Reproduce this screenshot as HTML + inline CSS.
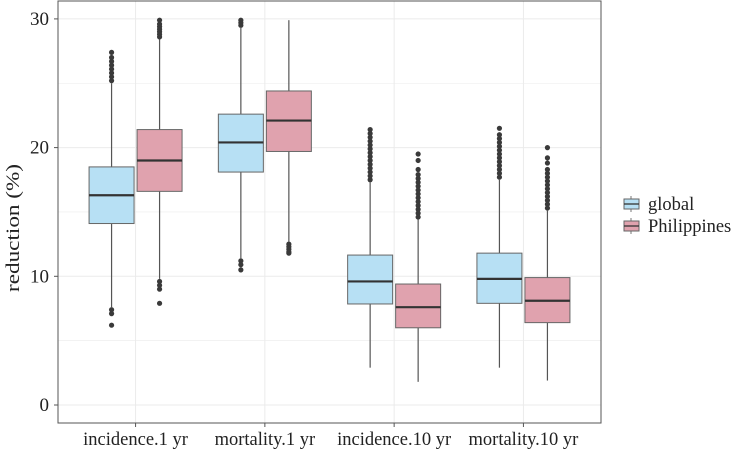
<!DOCTYPE html>
<html><head><meta charset="utf-8"><style>
body{margin:0;background:#fff;}
svg text{font-family:"Liberation Serif",serif;fill:#222;}
</style></head><body>
<svg id="chart" width="732" height="451" xmlns="http://www.w3.org/2000/svg">
<g id="grid"></g>
<g id="marks"></g>
<g id="axes"></g>
<text transform="translate(19,228) rotate(-90)" text-anchor="middle" font-size="19" textLength="128" lengthAdjust="spacingAndGlyphs">reduction (%)</text>
<g>
<g>
<line x1="631" y1="196" x2="631" y2="212" stroke="#777" stroke-width="1"/>
<rect x="624" y="199" width="15" height="10" fill="#b7e0f4" stroke="#666" stroke-width="1"/>
<line x1="624" y1="204" x2="639" y2="204" stroke="#333" stroke-width="1.3"/>
<text x="648" y="210" font-size="18.5">global</text></g>
<g>
<line x1="631" y1="218" x2="631" y2="234" stroke="#777" stroke-width="1"/>
<rect x="624" y="221" width="15" height="10" fill="#e0a2ae" stroke="#666" stroke-width="1"/>
<line x1="624" y1="226" x2="639" y2="226" stroke="#333" stroke-width="1.3"/>
<text x="648" y="232" font-size="18.5">Philippines</text></g>
</g>
</svg>
<script>
const categories=["incidence.1 yr","mortality.1 yr","incidence.10 yr","mortality.10 yr"];
const series=["global","Philippines"];
const yTicks=[0,10,20,30];
const q1=[[14.1,18.1,7.85,7.9],[16.6,19.7,6.0,6.4]];
const med=[[16.3,20.4,9.6,9.8],[19.0,22.1,7.6,8.1]];
const q3=[[18.5,22.6,11.65,11.8],[21.4,24.4,9.4,9.9]];
const whiskLo=[[7.6,11.4,2.9,2.9],[9.8,12.7,1.8,1.9]];
const whiskHi=[[25.0,29.3,17.3,17.5],[28.4,29.9,14.4,15.1]];
const outG=[[25.2,25.5,25.8,26.1,26.4,26.7,27.0,27.4,7.4,7.1,6.2],[29.5,29.7,29.9,11.2,10.9,10.5],[17.5,17.8,18.1,18.4,18.7,19.0,19.3,19.6,19.9,20.2,20.5,20.8,21.1,21.4],[17.7,18.0,18.3,18.6,18.9,19.2,19.5,19.8,20.1,20.4,20.7,21.0,21.5]];
const outP=[[28.6,28.8,29.0,29.2,29.4,29.6,29.9,9.6,9.3,9.0,7.9],[12.5,12.3,12.1,11.9,11.8],[14.6,14.9,15.2,15.5,15.8,16.1,16.4,16.7,17.0,17.3,17.6,17.9,18.3,19.0,19.5],[15.3,15.6,15.9,16.2,16.5,16.8,17.1,17.4,17.7,18.0,18.3,18.8,19.2,20.0]];
const L=58,R=601,T=1,B=423;
const y=v=>405-v*12.87;
const x=i=>L+(i+0.6)*(R-L)/4.2;
const NS="http://www.w3.org/2000/svg";
function mk(tag,attrs,parent){const e=document.createElementNS(NS,tag);for(const k in attrs)e.setAttribute(k,attrs[k]);parent.appendChild(e);return e;}
const grid=document.getElementById('grid'),marks=document.getElementById('marks'),axes=document.getElementById('axes');
mk('rect',{x:L,y:T,width:R-L,height:B-T,fill:'#fff'},grid);
for(let v=-5;v<=35;v+=5){const yy=y(v);if(yy<T||yy>B)continue;const g=mk('line',{x1:L,x2:R,y1:yy,y2:yy,stroke:'#ebebeb','stroke-width':v%10===0?1:0.6},grid);

}
categories.forEach((c,i)=>{const g=mk('line',{x1:x(i),x2:x(i),y1:T,y2:B,stroke:'#ebebeb','stroke-width':1},grid);

});
const fills=['#b7e0f4','#e0a2ae'];
const outs=[outG,outP];
series.forEach((s,si)=>{categories.forEach((c,i)=>{
const cx=x(i)+(si===0?-24:24),w=45;
const g=mk('g',{},marks);


mk('line',{x1:cx,x2:cx,y1:y(whiskHi[si][i]),y2:y(q3[si][i]),stroke:'#555','stroke-width':1.2},g);
mk('line',{x1:cx,x2:cx,y1:y(q1[si][i]),y2:y(whiskLo[si][i]),stroke:'#555','stroke-width':1.2},g);
mk('rect',{x:cx-w/2,y:y(q3[si][i]),width:w,height:y(q1[si][i])-y(q3[si][i]),fill:fills[si],stroke:'#666','stroke-width':1},g);
mk('line',{x1:cx-w/2,x2:cx+w/2,y1:y(med[si][i]),y2:y(med[si][i]),stroke:'#333','stroke-width':2.2},g);
outs[si][i].forEach(v=>{const p=mk('circle',{cx:cx,cy:y(v),r:2.6,fill:'#3a3a3a'},g);

});
});});
mk('rect',{x:L,y:T,width:R-L,height:B-T,fill:'none',stroke:'#555','stroke-width':1},axes);
yTicks.forEach(v=>{mk('line',{x1:L-4,x2:L,y1:y(v),y2:y(v),stroke:'#555'},axes);
const t=mk('text',{x:L-9,y:y(v)+6,'text-anchor':'end','font-size':'19'},axes);t.textContent=v;

});
categories.forEach((c,i)=>{mk('line',{x1:x(i),x2:x(i),y1:B,y2:B+4,stroke:'#555'},axes);
const t=mk('text',{x:x(i),y:445,'text-anchor':'middle','font-size':'18.5'},axes);t.textContent=c;

});
</script>
</body></html>
